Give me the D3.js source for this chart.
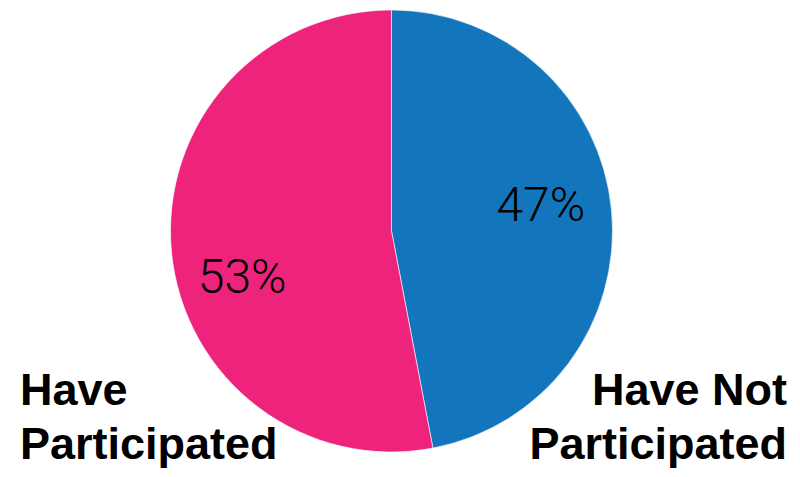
<!DOCTYPE html>
<html><head><meta charset="utf-8">
<script src="https://cdn.jsdelivr.net/npm/d3@7"></script>
<style>html,body{margin:0;padding:0;background:#fff;}svg{display:block;}</style>
</head><body>
<script>
const categories = ["Have Not Participated", "Have Participated"];
const values = [47, 53];
const pctLabels = ["47%", "53%"];
const colors = ["#1375BC", "#ED237C"];

const W = 800, H = 477;
const cx = 391.5, cy = 231, R = 221;
const svg = d3.select("body").append("svg").attr("width", W).attr("height", H);
const g = svg.append("g").attr("transform", `translate(${cx},${cy})`);

const pie = d3.pie().sort(null).value(d => d)(values);
const arc = d3.arc().innerRadius(0).outerRadius(R);
g.selectAll("path").data(pie).join("path")
  .attr("d", arc).attr("fill", (d,i) => colors[i])
  .attr("stroke", "#fff").attr("stroke-width", 0.6);

const labelArc = d3.arc().innerRadius(150).outerRadius(150);
const adj = [[0, -12], [0, 31]];
g.selectAll("text.pct").data(pie).join("text").attr("class","pct")
  .attr("x", (d,i) => labelArc.centroid(d)[0] + adj[i][0])
  .attr("y", (d,i) => labelArc.centroid(d)[1] + adj[i][1])
  .attr("text-anchor","middle").attr("dominant-baseline","central")
  .attr("font-family","Roboto, Lato, sans-serif").attr("font-weight",300)
  .attr("font-size",48).attr("fill","#000").text((d,i)=>pctLabels[i]);

const cat = svg.append("g").attr("font-family","'Liberation Sans', Arial, sans-serif")
  .attr("font-weight","bold").attr("font-size",45).attr("fill","#000");
const left = cat.append("text").attr("x",20).attr("y",405).attr("text-anchor","start");
left.append("tspan").attr("x",20).text("Have");
left.append("tspan").attr("x",20).attr("dy",54).text("Participated");
const right = cat.append("text").attr("x",787).attr("y",405).attr("text-anchor","end");
right.append("tspan").attr("x",787).text("Have Not");
right.append("tspan").attr("x",787).attr("dy",54).text("Participated");
</script>
</body></html>
